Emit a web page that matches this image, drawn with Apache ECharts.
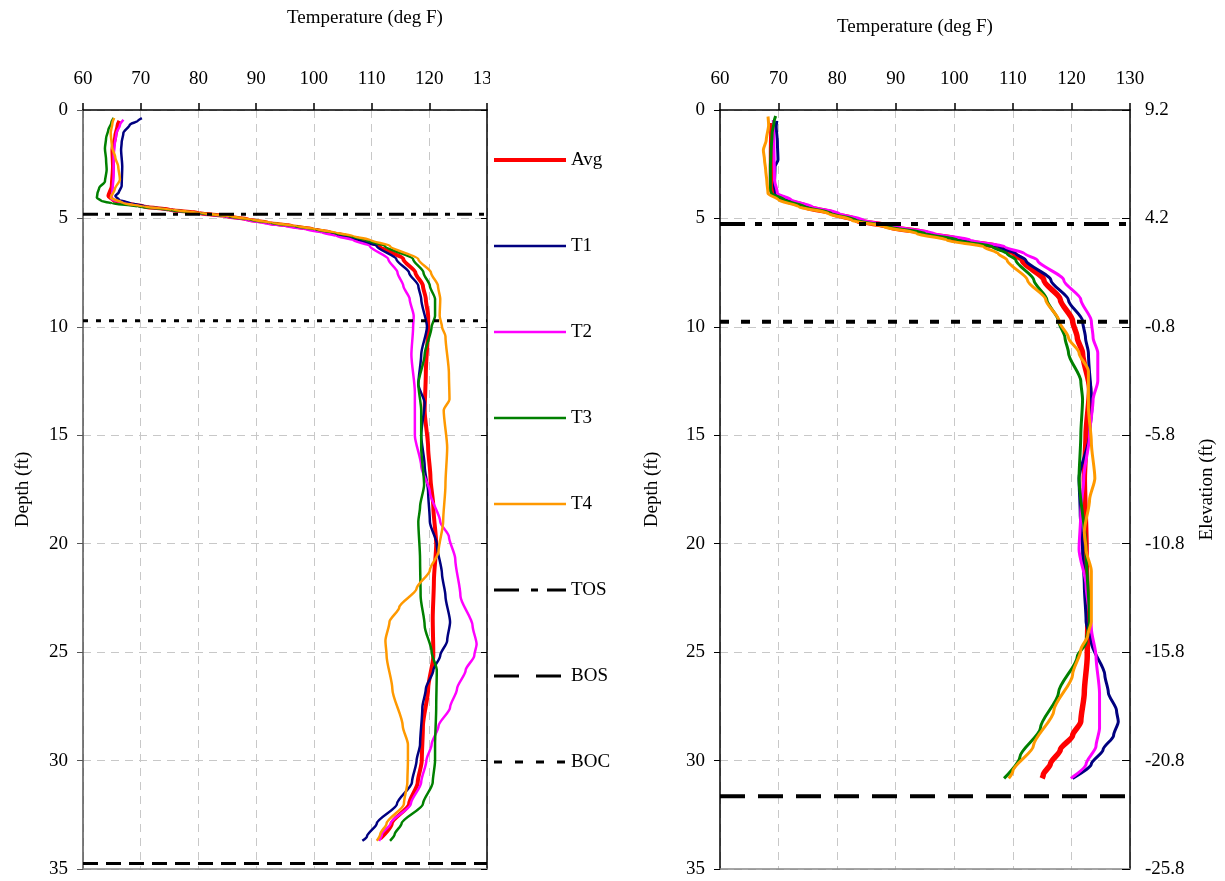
<!DOCTYPE html>
<html>
<head>
<meta charset="utf-8">
<script src="https://cdn.jsdelivr.net/npm/echarts@6/dist/echarts.min.js"></script>
<style>
html,body{margin:0;padding:0;background:#fff;}
#chart{width:1225px;height:881px;}
</style>
</head>
<body>
<div id="chart"></div>
<script>
// ---------- DATA ----------
var tempTicks = [60, 70, 80, 90, 100, 110, 120, 130];
var depthTicks = [0, 5, 10, 15, 20, 25, 30, 35];
var elevLabels = ['9.2', '4.2', '-0.8', '-5.8', '-10.8', '-15.8', '-20.8', '-25.8'];
var seriesNames = ['Avg', 'T1', 'T2', 'T3', 'T4'];
var markerNames = ['TOS', 'BOS', 'BOC'];

// Left profile: [depth ft, temperature degF]
var leftAvg = [[0.5,66.3],[0.7,66.0],[1.2,65.6],[1.83,65.1],[2.6,65.2],[3.5,65.0],[3.97,64.4],[4.15,65.2],[4.3,67.5],[4.45,70.5],[4.6,75.0],[4.75,80.0],[4.9,85.0],[5.05,88.6],[5.2,92.0],[5.35,96.2],[5.5,99.8],[5.65,102.8],[5.81,105.6],[6.0,108.5],[6.27,111.4],[6.88,115.5],[7.5,117.6],[8.11,118.9],[8.72,119.4],[9.5,119.8],[10.0,119.8],[12.14,119.4],[13.85,119.2],[15.57,119.8],[16.94,120.2],[18.3,120.7],[20.02,121.2],[21.73,120.8],[23.44,120.6],[25.15,120.7],[26.7,119.8],[28.41,118.9],[30.0,118.7],[31.0,118.0],[32.0,116.5],[32.9,113.5],[33.6,111.5]];
var leftT1 = [[0.37,70.2],[0.5,69.5],[0.68,68.1],[1.06,67.0],[1.5,66.7],[1.83,66.6],[2.6,66.8],[3.51,66.7],[3.8,66.2],[3.97,65.6],[4.15,66.3],[4.3,68.3],[4.45,71.0],[4.6,75.2],[4.75,80.0],[4.9,85.0],[5.05,88.5],[5.2,92.0],[5.35,96.0],[5.5,99.8],[5.65,102.5],[5.81,105.0],[6.0,107.8],[6.27,110.9],[6.88,114.3],[7.5,116.5],[8.11,118.1],[8.72,118.6],[10.0,119.6],[11.28,118.6],[12.65,118.1],[13.51,119.2],[15.0,118.6],[16.42,119.2],[17.62,119.8],[18.99,120.1],[20.02,121.3],[21.39,122.2],[22.41,122.8],[23.61,123.6],[24.47,123.1],[25.15,121.9],[25.84,120.7],[26.7,119.4],[27.55,118.8],[29.26,118.4],[30.0,117.8],[31.0,117.0],[32.0,114.4],[32.9,110.9],[33.5,109.2],[33.7,108.4]];
var leftT2 = [[0.45,67.0],[0.7,66.4],[1.06,65.8],[1.6,65.5],[2.13,65.3],[3.0,65.3],[3.8,65.1],[4.1,64.9],[4.3,67.0],[4.45,70.2],[4.6,74.5],[4.75,79.5],[4.9,84.5],[5.05,88.0],[5.2,91.0],[5.35,95.0],[5.5,98.6],[5.65,101.4],[5.81,103.9],[6.0,106.8],[6.27,109.7],[6.88,112.9],[7.5,114.5],[8.11,115.5],[8.72,116.6],[9.5,117.3],[10.0,117.2],[11.28,116.9],[13.0,117.5],[15.0,117.5],[16.42,118.6],[17.62,120.1],[18.99,121.9],[19.67,123.4],[20.7,124.5],[22.41,125.4],[23.78,127.5],[24.64,128.2],[25.15,127.8],[25.84,126.3],[26.7,124.8],[27.55,123.6],[28.41,121.6],[29.26,120.4],[30.0,119.5],[31.0,118.6],[32.0,116.8],[32.9,113.3],[33.4,111.8],[33.7,111.3]];
var leftT3 = [[0.37,65.3],[0.6,64.9],[0.9,64.4],[1.3,64.0],[1.77,63.8],[2.3,64.0],[2.76,64.1],[3.3,63.8],[3.6,62.8],[3.85,62.5],[4.05,62.4],[4.2,63.2],[4.3,65.0],[4.45,69.5],[4.6,74.5],[4.75,79.8],[4.9,85.0],[5.05,88.8],[5.2,92.3],[5.35,96.5],[5.5,100.2],[5.65,103.3],[5.81,106.2],[6.0,109.0],[6.27,112.3],[6.88,117.2],[7.5,119.0],[8.11,120.1],[8.72,121.0],[9.5,121.0],[10.0,120.4],[11.28,119.2],[12.65,118.1],[13.85,118.6],[15.57,118.6],[17.28,119.1],[18.3,118.4],[18.99,118.1],[20.7,118.4],[22.41,118.5],[23.78,119.2],[24.98,120.4],[25.84,121.3],[27.55,121.2],[29.26,121.0],[30.0,121.0],[31.0,120.6],[32.0,118.9],[32.9,115.2],[33.4,114.0],[33.7,113.2]];
var leftT4 = [[0.37,65.4],[0.6,65.1],[1.06,64.8],[1.67,65.0],[2.2,65.6],[2.59,66.1],[3.2,66.4],[3.66,65.5],[4.05,64.8],[4.3,67.0],[4.45,70.5],[4.6,75.5],[4.75,80.5],[4.9,85.5],[5.05,89.2],[5.2,92.8],[5.35,97.0],[5.5,100.5],[5.65,103.8],[5.81,106.8],[6.0,109.8],[6.27,113.2],[6.88,118.1],[7.5,120.3],[8.11,121.5],[8.72,121.9],[9.5,121.8],[10.0,122.2],[10.43,122.8],[12.14,123.4],[13.34,123.5],[13.85,122.5],[15.57,123.1],[17.28,122.8],[18.99,122.4],[20.36,121.6],[21.22,120.1],[22.07,117.8],[22.93,114.8],[23.61,113.1],[24.47,112.4],[25.15,112.6],[26.7,113.6],[28.41,115.4],[29.26,116.3],[30.0,116.3],[31.0,116.2],[32.0,115.6],[32.9,112.6],[33.4,111.5],[33.7,110.9]];
var leftTOS = 4.81, leftBOS = 34.75, leftBOC = 9.72;

// Right profile: [depth ft, temperature degF]
var rightAvg = [[0.6,68.9],[2.0,68.8],[3.5,68.8],[3.85,69.0],[4.15,71.3],[4.46,74.7],[4.77,79.3],[5.08,83.3],[5.38,89.0],[5.69,95.3],[6.0,101.0],[6.31,107.3],[6.62,110.2],[6.92,111.6],[7.85,115.3],[8.74,118.1],[9.73,120.2],[10.5,121.0],[11.2,121.9],[12.86,123.1],[15.0,122.5],[17.0,122.2],[20.27,122.5],[23.57,122.8],[25.2,122.7],[26.86,122.2],[28.2,121.6],[28.84,120.2],[29.5,118.1],[30.16,116.4],[30.65,115.2],[30.82,115.0]];
var rightT1 = [[0.5,69.7],[0.77,69.6],[1.5,69.8],[2.3,69.9],[2.6,69.4],[3.5,69.3],[3.85,69.5],[4.15,71.8],[4.46,75.2],[4.77,79.8],[5.08,83.8],[5.38,89.3],[5.69,95.6],[6.0,101.3],[6.31,107.6],[6.62,110.5],[6.92,112.2],[7.85,116.5],[8.77,119.5],[9.73,121.9],[10.5,122.4],[11.2,122.9],[13.7,123.5],[15.0,123.1],[16.98,121.3],[18.6,121.5],[20.27,121.9],[21.92,122.2],[23.57,122.5],[24.56,123.4],[26.05,125.7],[26.86,126.3],[27.7,127.7],[28.2,128.0],[28.84,127.2],[29.5,125.4],[30.16,123.4],[30.82,120.2]];
var rightT2 = [[0.46,69.1],[1.5,69.2],[3.2,69.3],[3.85,69.8],[4.15,72.2],[4.46,75.8],[4.77,80.3],[5.08,84.5],[5.38,90.3],[5.69,96.5],[6.0,102.7],[6.31,108.6],[6.62,112.0],[6.92,114.2],[7.85,118.7],[8.74,121.6],[9.73,123.4],[10.5,123.7],[11.2,124.5],[12.5,124.5],[13.35,123.7],[15.0,123.1],[16.98,122.1],[18.6,121.6],[20.27,121.3],[21.92,122.5],[23.9,123.4],[25.2,124.2],[26.9,124.8],[28.5,124.8],[29.33,124.2],[30.16,122.5],[30.82,119.9]];
var rightT3 = [[0.28,69.5],[0.6,69.2],[1.08,68.9],[2.0,68.7],[2.6,68.6],[3.7,68.6],[3.85,68.8],[4.15,71.0],[4.46,74.5],[4.77,79.0],[5.08,83.2],[5.38,88.8],[5.69,95.0],[6.0,100.5],[6.31,106.5],[6.62,109.0],[6.92,110.5],[7.85,113.6],[8.74,115.8],[9.73,117.8],[10.5,118.9],[11.2,119.5],[12.5,121.6],[13.35,121.9],[15.0,121.6],[16.98,121.3],[20.27,122.5],[23.57,123.1],[24.56,122.5],[25.2,121.0],[26.86,117.8],[28.5,114.7],[29.83,111.2],[30.82,108.5]];
var rightT4 = [[0.3,68.2],[0.7,68.3],[1.38,67.9],[1.85,67.4],[2.3,67.6],[2.77,67.8],[3.3,68.0],[3.85,68.2],[4.15,70.0],[4.46,73.5],[4.77,78.5],[5.08,82.5],[5.38,88.0],[5.69,93.6],[6.0,98.7],[6.31,105.0],[6.62,107.5],[6.92,109.0],[7.85,112.5],[8.74,115.6],[9.73,117.9],[10.5,119.5],[11.2,121.3],[12.03,122.9],[13.7,122.9],[15.33,123.4],[16.98,124.0],[17.97,123.1],[19.45,122.2],[20.27,122.5],[21.26,123.4],[23.57,123.4],[24.23,122.8],[24.89,121.6],[26.04,120.2],[27.7,117.0],[29.33,113.5],[30.49,110.0],[30.82,109.3]];
var rightTOS = 5.26, rightBOS = 31.64, rightBOC = 9.77;

// ---------- STYLE ----------
var FONT = "'Liberation Serif', 'Times New Roman', serif";
var colors = {Avg: '#ff0000', T1: '#000080', T2: '#ff00ff', T3: '#008000', T4: '#ff9900'};
var grey = '#c8c8c8';

function toXY(arr) { return arr.map(function (p) { return [p[1], p[0]]; }); }

function profileSeries(name, data, xi, yi, w) {
  return {
    name: name, type: 'line', xAxisIndex: xi, yAxisIndex: yi,
    data: toXY(data), symbol: 'none', smooth: 0.25, smoothMonotone: 'y',
    lineStyle: {color: colors[name], width: w}, itemStyle: {color: colors[name]},
    animation: false
  };
}
function hLine(name, depth, xi, yi, dash, w) {
  return {
    name: name, type: 'line', xAxisIndex: xi, yAxisIndex: yi,
    data: [[tempTicks[0], depth], [tempTicks[tempTicks.length - 1], depth]],
    symbol: 'none', z: 5,
    lineStyle: {color: '#000', width: w, type: dash}, itemStyle: {color: '#000'},
    animation: false
  };
}

function xTop(gi, labelFmt) {
  return {
    type: 'value', gridIndex: gi, position: 'top', min: 60, max: 130, interval: 10,
    axisLine: {onZero: false, lineStyle: {color: '#000', width: 1.5}},
    axisTick: {show: true, length: 7, lineStyle: {color: '#000', width: 1.5}},
    axisLabel: {color: '#000', fontFamily: FONT, fontSize: 19, margin: 21, formatter: labelFmt},
    splitLine: {show: true, lineStyle: {color: grey, type: [8, 6], width: 1}}
  };
}
function xBottom(gi) {
  return {
    type: 'value', gridIndex: gi, position: 'bottom', min: 60, max: 130, interval: 10,
    axisLine: {onZero: false, lineStyle: {color: '#888', width: 1.5}},
    axisTick: {show: false}, axisLabel: {show: false}, splitLine: {show: false}
  };
}
function yDepth(gi, color, gap) {
  return {
    type: 'value', gridIndex: gi, position: 'left', inverse: true, min: 0, max: 35, interval: 5,
    name: 'Depth (ft)', nameLocation: 'middle', nameRotate: 90, nameGap: gap,
    nameTextStyle: {color: '#000', fontFamily: FONT, fontSize: 19},
    axisLine: {onZero: false, lineStyle: {color: color, width: 1.5}},
    axisTick: {show: true, length: 6, lineStyle: {color: color}},
    axisLabel: {color: '#000', fontFamily: FONT, fontSize: 19, margin: 15},
    splitLine: {show: true, lineStyle: {color: grey, type: [8, 6], width: 1}}
  };
}

var chart = echarts.init(document.getElementById('chart'), null, {renderer: 'canvas'});

var series = [];
var leftData = [leftAvg, leftT1, leftT2, leftT3, leftT4];
var rightData = [rightAvg, rightT1, rightT2, rightT3, rightT4];
seriesNames.forEach(function (n, i) { series.push(profileSeries(n, leftData[i], 0, 0, i === 0 ? 4 : 2.5)); });
seriesNames.forEach(function (n, i) { series.push(profileSeries(n, rightData[i], 1, 2, i === 0 ? 5.5 : 3)); });
series.push(hLine('TOS', leftTOS, 0, 0, [15, 7, 5, 7], 3));
series.push(hLine('BOS', leftBOS, 0, 0, [15, 8], 3));
series.push(hLine('BOC', leftBOC, 0, 0, [5, 8], 3));
series.push(hLine('TOS', rightTOS, 1, 2, [25, 10, 7, 10], 4));
series.push(hLine('BOS', rightBOS, 1, 2, [25, 13], 4));
series.push(hLine('BOC', rightBOC, 1, 2, [9, 12], 4));

var hiddenSymbol = {color: 'rgba(0,0,0,0)', borderWidth: 0, opacity: 0};
var legendData = seriesNames.map(function (n, i) {
  return {name: n, itemStyle: hiddenSymbol,
    lineStyle: {color: colors[n], width: i === 0 ? 4 : 2.5, type: 'solid'}};
});
legendData.push({name: 'TOS', itemStyle: hiddenSymbol, lineStyle: {color: '#000', width: 3, type: [25, 12, 7, 9]}});
legendData.push({name: 'BOS', itemStyle: hiddenSymbol, lineStyle: {color: '#000', width: 3, type: [25, 17]}});
legendData.push({name: 'BOC', itemStyle: hiddenSymbol, lineStyle: {color: '#000', width: 3, type: [8, 13]}});

var option = {
  backgroundColor: '#ffffff',
  animation: false,
  grid: [
    {left: 83, top: 110, width: 404, height: 759},
    {left: 720, top: 110, width: 410, height: 759}
  ],
  xAxis: [
    xTop(0), xTop(1), xBottom(0), xBottom(1)
  ],
  yAxis: [
    yDepth(0, '#555', 50),
    {
      type: 'value', gridIndex: 0, position: 'right', inverse: true, min: 0, max: 35, interval: 5,
      axisLine: {onZero: false, lineStyle: {color: '#000', width: 1.5}},
      axisTick: {show: true, inside: true, length: 6, lineStyle: {color: '#000'}},
      axisLabel: {show: false}, splitLine: {show: false}
    },
    yDepth(1, '#000', 58),
    {
      type: 'value', gridIndex: 1, position: 'right', inverse: true, min: 0, max: 35, interval: 5,
      name: 'Elevation (ft)', nameLocation: 'middle', nameRotate: 90, nameGap: 68,
      nameTextStyle: {color: '#000', fontFamily: FONT, fontSize: 19},
      axisLine: {onZero: false, lineStyle: {color: '#000', width: 1.5}},
      axisTick: {show: true, inside: true, length: 8, lineStyle: {color: '#000'}},
      axisLabel: {color: '#000', fontFamily: FONT, fontSize: 19, margin: 15,
        formatter: function (v) { return elevLabels[Math.round(v / 5)]; }},
      splitLine: {show: false}
    }
  ],
  legend: {
    orient: 'vertical', left: 492, top: 150, padding: 0,
    itemWidth: 72, itemHeight: 14, itemGap: 66,
    itemStyle: hiddenSymbol,
    textStyle: {color: '#000', fontFamily: FONT, fontSize: 19, lineHeight: 20, padding: [0, 0, 0, 0]},
    data: legendData,
    selectedMode: false
  },
  graphic: [
    {type: 'rect', shape: {x: 490, y: 62, width: 30, height: 36}, style: {fill: '#fff'}, z: 100},
    {type: 'text', left: 287, top: 9, z: 100,
      style: {text: 'Temperature (deg F)', fill: '#000', font: '19px ' + FONT}},
    {type: 'text', left: 837, top: 18, z: 100,
      style: {text: 'Temperature (deg F)', fill: '#000', font: '19px ' + FONT}}
  ],
  series: series
};
chart.setOption(option);
</script>
</body>
</html>
